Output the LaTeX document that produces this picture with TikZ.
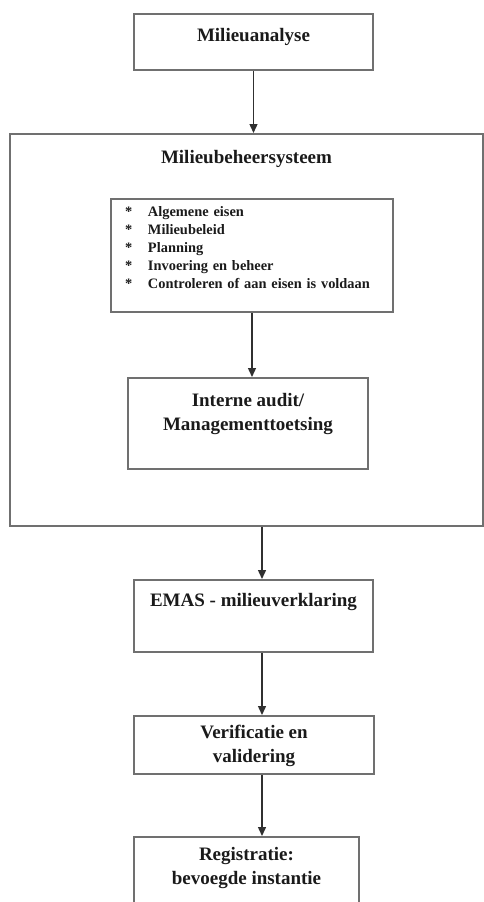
\documentclass[tikz,border=0pt]{standalone}
\usepackage{fontspec}
\setmainfont{Liberation Serif}
\usepackage{xcolor}
\usetikzlibrary{arrows.meta,positioning}
\definecolor{boxline}{HTML}{707070}
\definecolor{arrline}{HTML}{303030}
\definecolor{ink}{HTML}{1A1A1A}

\begin{document}
\begin{tikzpicture}[x=1pt,y=-1pt,
  every node/.style={font=\fontsize{19}{24}\selectfont\bfseries,text=ink},
  box/.style={draw=boxline,line width=2pt,inner sep=0pt,anchor=north,align=center},
  arr/.style={draw=arrline,line width=1.4pt,-{Triangle[width=8pt,length=9pt]}}]
  \path[use as bounding box] (0,0) rectangle (484,902);
  \clip (0,0) rectangle (484,902);
  \coordinate (spine) at (262,0);
  \node[box,minimum width=239pt,text height=27pt,text depth=29pt] (ana) at (253.5,13) {Milieuanalyse};
  \node[box,minimum width=473pt,text height=29pt,text depth=363pt] (sys) at (246.5,133) {Milieubeheersysteem};
  \node[box,font=\fontsize{14.4}{18}\selectfont\bfseries,text width=254pt,inner xsep=14pt,align=left,text height=17pt,text depth=96pt] (eisen) at (252,198)
    {\makebox[23pt][l]{*}Algemene eisen\\
     \makebox[23pt][l]{*}Milieubeleid\\
     \makebox[23pt][l]{*}Planning\\
     \makebox[23pt][l]{*}Invoering en beheer\\
     \makebox[23pt][l]{*}Controleren of aan eisen is voldaan};
  \node[box,minimum width=240pt,text height=52pt,text depth=39pt] (audit) at (248,377) {Interne audit/\\Managementtoetsing};
  \node[box,minimum width=239pt,text height=26pt,text depth=46pt] (emas) at (253.5,579) {EMAS - milieuverklaring};
  \node[box,minimum width=240pt,text height=46pt,text depth=12pt] (verif) at (254,715) {Verificatie en\\validering};
  \node[box,minimum width=225pt,text height=47pt,text depth=42pt] (reg) at (246.5,836) {Registratie:\\bevoegde instantie};
  \draw[arr] (ana.south) -- (ana.south |- sys.north);
  \draw[arr] (eisen.south) -- (eisen.south |- audit.north);
  \draw[arr] (spine |- sys.south) -- (spine |- emas.north);
  \draw[arr] (spine |- emas.south) -- (spine |- verif.north);
  \draw[arr] (spine |- verif.south) -- (spine |- reg.north);
\end{tikzpicture}
\end{document}
